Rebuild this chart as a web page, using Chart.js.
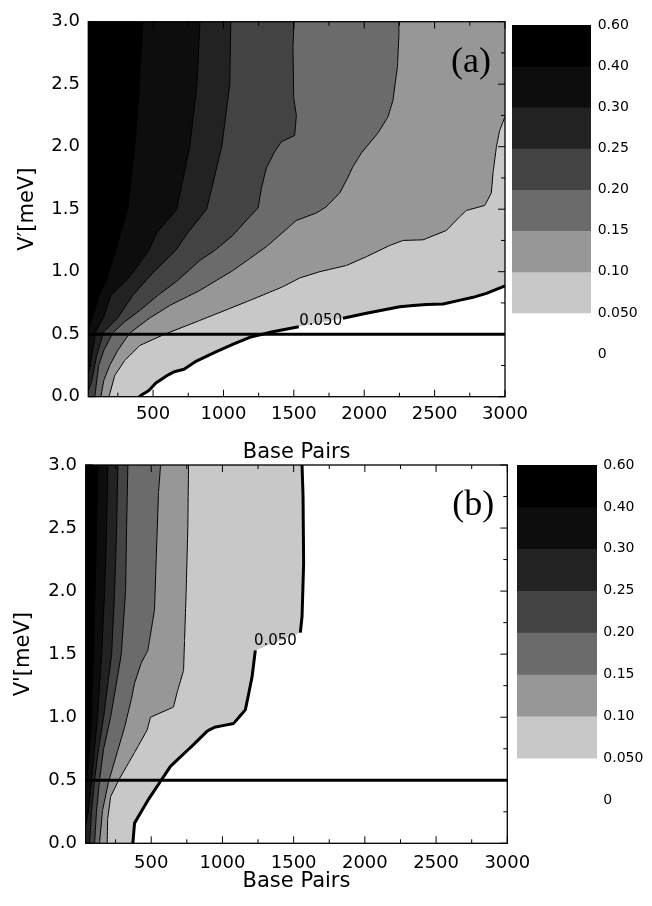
<!DOCTYPE html>
<html>
<head>
<meta charset="utf-8">
<script src="https://cdn.jsdelivr.net/npm/chart.js@4.4.1/dist/chart.umd.min.js"></script>
<style>
  html, body { margin: 0; padding: 0; background: #fff; }
  #wrap { position: relative; width: 652px; height: 906px; background: #fff; overflow: hidden; }
  canvas { position: absolute; }
</style>
</head>
<body>
<div id="wrap">
  <canvas id="mainA" width="530" height="470" style="left:0px;top:0px"></canvas>
  <canvas id="barA" width="152" height="400" style="left:500px;top:0px"></canvas>
  <canvas id="mainB" width="532" height="466" style="left:0px;top:440px"></canvas>
  <canvas id="barB" width="147" height="400" style="left:505px;top:440px"></canvas>
</div>
<script>
// ---------------- data ----------------
const xMin = 40, xMax = 3000, yMin = 0, yMax = 3;
const xMajorTicks = [500, 1000, 1500, 2000, 2500, 3000];
const xTickLabels = ['500', '1000', '1500', '2000', '2500', '3000'];
const xMinorTicks = [250, 750, 1250, 1750, 2250, 2750];
const yMajorTicks = [0, 0.5, 1, 1.5, 2, 2.5, 3];
const yTickLabels = ['0.0', '0.5', '1.0', '1.5', '2.0', '2.5', '3.0'];
const yMinorTicks = [0.25, 0.75, 1.25, 1.75, 2.25, 2.75];
const levels = [0.05, 0.10, 0.15, 0.20, 0.25, 0.30, 0.40];
const levelColors = ['#c8c8c8', '#979797', '#6b6b6b', '#434343', '#222222', '#0d0d0d', '#000000'];
const cbLabels = ['0', '0.050', '0.10', '0.15', '0.20', '0.25', '0.30', '0.40', '0.60'];
const thresholdV = 0.5;

// panel (a) contours, [base pairs, V'] from top/right end to bottom/left end
const a005 = [[3000,0.886],[2868,0.827],[2773,0.795],[2560,0.742],[2442,0.738],[2252,0.72],[2016,0.667],[1849,0.627],[1535,0.56],[1350,0.52],[1200,0.48],[1070,0.42],[950,0.36],[800,0.28],[720,0.22],[650,0.2],[600,0.17],[520,0.11],[470,0.05],[400,0]];
const a010 = [[3000,2.24],[2962,2.13],[2939,2.0],[2915,1.79],[2903,1.63],[2856,1.53],[2726,1.49],[2678,1.44],[2584,1.33],[2418,1.255],[2275,1.25],[2181,1.21],[2016,1.12],[1874,1.05],[1684,1.0],[1542,0.95],[1423,0.88],[1187,0.77],[832,0.61],[583,0.5],[406,0.41],[299,0.29],[228,0.17],[187,0]];
const a015 = [[2245,3.0],[2247,2.91],[2236,2.64],[2204,2.37],[2169,2.24],[2098,2.11],[1980,1.95],[1920,1.84],[1873,1.73],[1826,1.63],[1731,1.52],[1660,1.47],[1518,1.41],[1305,1.2],[1068,1.01],[832,0.85],[619,0.73],[477,0.63],[335,0.51],[249,0.37],[192,0.25],[150,0.13],[129,0]];
const a020 = [[1501,3.0],[1494,2.79],[1499,2.39],[1518,2.25],[1506,2.09],[1412,2.04],[1364,1.96],[1305,1.83],[1270,1.67],[1246,1.51],[1187,1.44],[1066,1.29],[938,1.17],[832,1.09],[675,0.93],[533,0.81],[406,0.69],[299,0.6],[214,0.51],[150,0.37],[114,0.25],[86,0]];
const a025 = [[1052,3.0],[1045,2.5],[988,2.0],[881,1.5],[746,1.31],[661,1.17],[498,0.99],[355,0.81],[249,0.63],[150,0.52],[100,0.33],[65,0.13],[40,0.04]];
const a030 = [[833,3.0],[812,2.5],[761,2.0],[668,1.5],[526,1.31],[469,1.17],[335,0.96],[200,0.81],[150,0.64],[93,0.52],[65,0.33],[40,0.17]];
const a040 = [[427,3.0],[405,2.5],[370,2.0],[320,1.5],[235,1.17],[164,0.91],[116,0.81],[86,0.69],[58,0.6],[40,0.52]];

// panel (b) contours
const b005 = [[1559,3.0],[1566,2.75],[1570,2.22],[1559,1.8],[1547,1.67],[1231,1.53],[1220,1.43],[1208,1.32],[1185,1.19],[1161,1.06],[1079,0.95],[944,0.92],[893,0.89],[804,0.79],[757,0.74],[635,0.61],[570,0.5],[476,0.34],[383,0.16],[371,0]];
const b010 = [[762,3.0],[757,2.5],[745,1.98],[734,1.61],[727,1.37],[685,1.21],[656,1.08],[495,1.0],[472,0.9],[383,0.72],[271,0.5],[215,0.37],[194,0.19],[191,0]];
const b015 = [[566,3.0],[551,2.78],[535,2.25],[523,1.85],[488,1.61],[476,1.53],[430,1.43],[383,1.27],[360,1.14],[313,0.92],[266,0.74],[201,0.49],[158,0.26],[137,0]];
const b020 = [[336,3.0],[327,2.5],[320,2.0],[290,1.5],[215,1.0],[166,0.75],[137,0.5],[116,0.25],[102,0]];
const b025 = [[266,3.0],[257,2.5],[243,2.0],[222,1.5],[166,1.0],[130,0.75],[102,0.5],[81,0.25],[67,0]];
const b030 = [[196,3.0],[187,2.5],[173,2.0],[152,1.5],[123,1.0],[102,0.75],[81,0.5],[60,0.26],[40,0.14]];
const b040 = [[126,3.0],[116,2.5],[106,2.0],[95,1.5],[81,1.0],[67,0.75],[53,0.58],[40,0.46]];

// ---------------- rendering ----------------
Chart.defaults.font.family = "'DejaVu Sans', sans-serif";
Chart.defaults.color = '#000';

const decorPlugin = {
  id: 'decor',
  afterDatasetsDraw(chart, args, o) {
    const {ctx, chartArea: a} = chart;
    const xs = chart.scales.x, ys = chart.scales.y;
    ctx.save();
    ctx.strokeStyle = '#000';
    ctx.lineWidth = 1;
    ctx.beginPath();
    const seg = (x1, y1, x2, y2) => { ctx.moveTo(x1, y1); ctx.lineTo(x2, y2); };
    xMajorTicks.forEach(v => { const p = xs.getPixelForValue(v); seg(p, a.bottom, p, a.bottom - 7); seg(p, a.top, p, a.top + 7); });
    xMinorTicks.forEach(v => { const p = xs.getPixelForValue(v); seg(p, a.bottom, p, a.bottom - 4); seg(p, a.top, p, a.top + 4); });
    yMajorTicks.forEach(v => { const p = ys.getPixelForValue(v); seg(a.left, p, a.left + 7, p); seg(a.right, p, a.right - 7, p); });
    yMinorTicks.forEach(v => { const p = ys.getPixelForValue(v); seg(a.left, p, a.left + 4, p); seg(a.right, p, a.right - 4, p); });
    ctx.stroke();
    ctx.lineWidth = 1.3;
    ctx.strokeRect(a.left, a.top, a.right - a.left, a.bottom - a.top);
    ctx.fillStyle = '#000';
    ctx.textAlign = 'center';
    ctx.textBaseline = 'middle';
    ctx.font = "36px 'Liberation Serif', serif";
    ctx.fillText(o.tag, a.right - 34, a.top + 41);
    ctx.font = "15px 'DejaVu Sans', sans-serif";
    ctx.fillText(o.clabel, xs.getPixelForValue(o.cx), ys.getPixelForValue(o.cy));
    ctx.restore();
  }
};

function zeroPad(s) { s.paddingLeft = 0; s.paddingRight = 0; s.paddingTop = 0; s.paddingBottom = 0; }

function makeMain(id, P) {
  const datasets = [];
  datasets.push({ data: [{x: xMin, y: thresholdV}, {x: xMax, y: thresholdV}], borderColor: '#000', borderWidth: 3, fill: false, order: 0 });
  P.contours.forEach((c, k) => {
    const pts = c.map(([x, y]) => ({x, y}));
    if (k === 0) {
      datasets.push({ data: pts.slice(0, P.gap + 1), borderColor: '#000', borderWidth: 3, fill: false, order: 1 });
      datasets.push({ data: pts.slice(P.gap + 1), borderColor: '#000', borderWidth: 3, fill: false, order: 1 });
    } else {
      datasets.push({ data: pts, borderColor: '#000', borderWidth: 1, fill: false, order: 1 });
    }
    const f = pts.slice();
    if (f[0].y < yMax) f.unshift({x: xMax, y: yMax});
    if (f[f.length - 1].y > yMin) f.push({x: xMin, y: yMin});
    datasets.push({ data: f, fill: {value: xMin}, backgroundColor: levelColors[k], borderWidth: 0, borderColor: 'rgba(0,0,0,0)', order: 10 - k });
  });

  return new Chart(document.getElementById(id), {
    type: 'line',
    data: { datasets },
    plugins: [decorPlugin],
    options: {
      indexAxis: 'y',
      responsive: false,
      animation: false,
      devicePixelRatio: 1,
      elements: { point: { radius: 0, hoverRadius: 0 }, line: { tension: 0.000001, capBezierPoints: true, borderJoinStyle: 'round' } },
      layout: { padding: P.padding },
      plugins: {
        legend: { display: false },
        tooltip: { enabled: false },
        decor: { tag: P.tag, clabel: '0.050', cx: P.labelX, cy: P.labelY }
      },
      scales: {
        x: {
          type: 'linear', position: 'bottom', min: xMin, max: xMax,
          grid: { display: false, drawTicks: false }, border: { display: false },
          afterBuildTicks: s => { s.ticks = xMajorTicks.map(v => ({value: v})); },
          afterFit: s => { s.height = P.xAxisH; zeroPad(s); },
          ticks: { autoSkip: false, maxRotation: 0, padding: P.xTickPad, font: { size: 18 }, callback: (v, i) => xTickLabels[i] },
          title: { display: true, text: 'Base Pairs', font: { size: 21, lineHeight: 1 }, padding: { top: 0, bottom: P.xTitlePad } }
        },
        y: {
          type: 'linear', position: 'left', min: yMin, max: yMax,
          grid: { display: false, drawTicks: false }, border: { display: false },
          afterBuildTicks: s => { s.ticks = yMajorTicks.map(v => ({value: v})); },
          afterFit: s => { s.width = P.yAxisW; zeroPad(s); },
          ticks: { autoSkip: false, padding: P.yTickPad, font: { size: 18 }, callback: (v, i) => yTickLabels[i] },
          title: { display: true, text: P.yTitle, font: { size: 21, lineHeight: 1 }, padding: { top: P.yTitlePad, bottom: 0 } }
        }
      }
    }
  });
}

function makeBar(id, P) {
  const n = levels.length;
  return new Chart(document.getElementById(id), {
    type: 'bar',
    data: {
      labels: [''],
      datasets: levels.map((lv, k) => ({
        data: [[k + 1, n + 1]], backgroundColor: levelColors[k], borderWidth: 0,
        grouped: false, barPercentage: 1, categoryPercentage: 1, order: n - k
      }))
    },
    options: {
      responsive: false, animation: false, devicePixelRatio: 1,
      layout: { padding: P.padding },
      plugins: { legend: { display: false }, tooltip: { enabled: false } },
      scales: {
        x: { display: false },
        y: {
          type: 'linear', position: 'right', min: 0, max: n + 1,
          grid: { display: false, drawTicks: false }, border: { display: false },
          afterBuildTicks: s => { s.ticks = cbLabels.map((t, i) => ({value: i})); },
          afterFit: s => { s.width = P.axisW; zeroPad(s); },
          ticks: { autoSkip: false, padding: P.tickPad, font: { size: 14 }, callback: (v, i) => cbLabels[i] }
        }
      }
    }
  });
}

makeMain('mainA', {
  contours: [a005, a010, a015, a020, a025, a030, a040], gap: 7,
  tag: '(a)', labelX: 1691, labelY: 0.606, yTitle: 'V\u2032[meV]',
  padding: { left: 0, top: 21.7, right: 25, bottom: 0 },
  xAxisH: 73.3, yAxisW: 88.3, xTickPad: 7, yTickPad: 8.3, xTitlePad: 7, yTitlePad: 17.5
});
makeMain('mainB', {
  contours: [b005, b010, b015, b020, b025, b030, b040], gap: 4,
  tag: '(b)', labelX: 1372, labelY: 1.604, yTitle: "V'[meV]",
  padding: { left: 0, top: 25, right: 24.7, bottom: 0 },
  xAxisH: 62.7, yAxisW: 85.7, xTickPad: 9.6, yTickPad: 8.7, xTitlePad: 13.5, yTitlePad: 12.8
});
makeBar('barA', { padding: { left: 12, top: 25, right: 0, bottom: 45.9 }, axisW: 61, tickPad: 6.7 });
makeBar('barB', { padding: { left: 12, top: 25, right: 0, bottom: 40 }, axisW: 55, tickPad: 6.3 });
</script>
</body>
</html>
